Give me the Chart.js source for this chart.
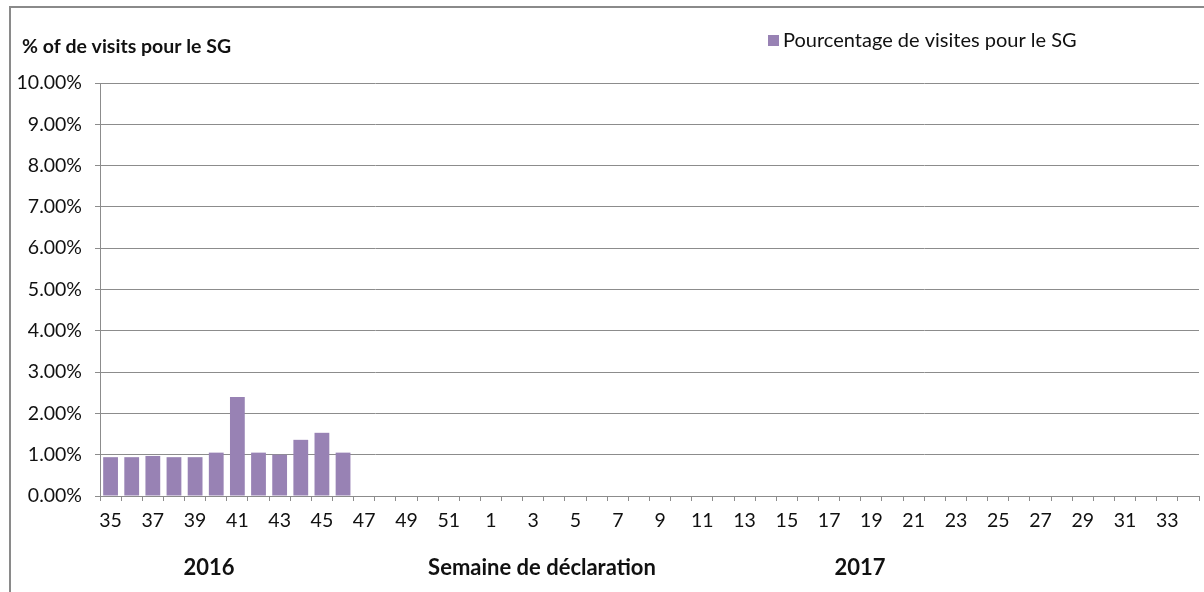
<!DOCTYPE html>
<html>
<head>
<meta charset="utf-8">
<script src="https://cdn.jsdelivr.net/npm/chart.js@4/dist/chart.umd.min.js"></script>
<style>
html,body{margin:0;padding:0;background:#fff;}
#wrap{position:relative;width:1204px;height:592px;}
</style>
</head>
<body>
<div id="wrap"><canvas id="c" width="1204" height="592"></canvas></div>
<script>
const weeks = ['35','36','37','38','39','40','41','42','43','44','45','46','47','48','49','50','51','52',
  '1','2','3','4','5','6','7','8','9','10','11','12','13','14','15','16','17','18','19','20','21','22','23','24','25','26','27','28','29','30','31','32','33','34'];
const pctSG = [0.94,0.94,0.97,0.94,0.94,1.05,2.40,1.05,1.00,1.36,1.53,1.05];
const seriesLabel = 'Pourcentage de visites pour le SG';
const yTitle = '% of de visits pour le SG';
const xTitle = 'Semaine de déclaration';
const yearLabels = ['2016','2017'];

const FONT = 'Lato, "Open Sans", sans-serif';
const BAR = '#9882b4';
const GRID = '#8c8c8c';

const decor = {
  id:'decor',
  afterDraw(chart){
    const ctx = chart.ctx;
    ctx.save();
    ctx.strokeStyle = '#8a8a8a';
    ctx.lineWidth = 2;
    ctx.beginPath();
    ctx.moveTo(10, 592); ctx.lineTo(10, 7); ctx.lineTo(1204, 7);
    ctx.stroke();
    ctx.fillStyle = '#111';
    ctx.textBaseline = 'middle';
    ctx.font = 'bold 19.5px ' + FONT;
    ctx.textAlign = 'left';
    ctx.fillText(yTitle, 22, 47);
    ctx.fillStyle = BAR;
    ctx.fillRect(768, 35, 11, 11);
    ctx.fillStyle = '#111';
    ctx.font = '20px ' + FONT;
    ctx.fillText(seriesLabel, 783, 41);
    ctx.font = 'bold 22px ' + FONT;
    ctx.textAlign = 'center';
    ctx.fillText(yearLabels[0], 209, 568);
    ctx.fillText(xTitle, 542, 568);
    ctx.fillText(yearLabels[1], 860, 568);
    ctx.restore();
  }
};

new Chart(document.getElementById('c'), {
  type:'bar',
  data:{
    labels: weeks,
    datasets:[{
      label: seriesLabel,
      data: pctSG,
      backgroundColor: BAR,
      borderWidth: 0,
      barPercentage: 0.7,
      categoryPercentage: 1.0
    }]
  },
  options:{
    responsive:false,
    animation:false,
    layout:{padding:{left:0,right:5,top:83,bottom:0}},
    plugins:{legend:{display:false},tooltip:{enabled:false}},
    scales:{
      x:{
        offset:true,
        afterFit(s){ s.height = 96; },
        grid:{display:true, drawOnChartArea:false, drawTicks:true, tickLength:5, offset:true, color:GRID},
        border:{display:true,color:GRID,width:1},
        ticks:{
          autoSkip:false, maxRotation:0, minRotation:0, padding:8,
          color:'#111', font:{family:FONT,size:19.5},
          callback(v,i){ return i%2===0 ? this.getLabelForValue(v) : ''; }
        }
      },
      y:{
        min:0,max:10,
        afterFit(s){ s.width = 100; },
        grid:{color:GRID, lineWidth:1, drawTicks:true, tickLength:5},
        border:{display:true,color:GRID,width:1},
        ticks:{
          stepSize:1, padding:13, color:'#111', font:{family:FONT,size:19.5},
          callback(v){ return v.toFixed(2)+'%'; }
        }
      }
    }
  },
  plugins:[decor]
});
</script>
</body>
</html>
